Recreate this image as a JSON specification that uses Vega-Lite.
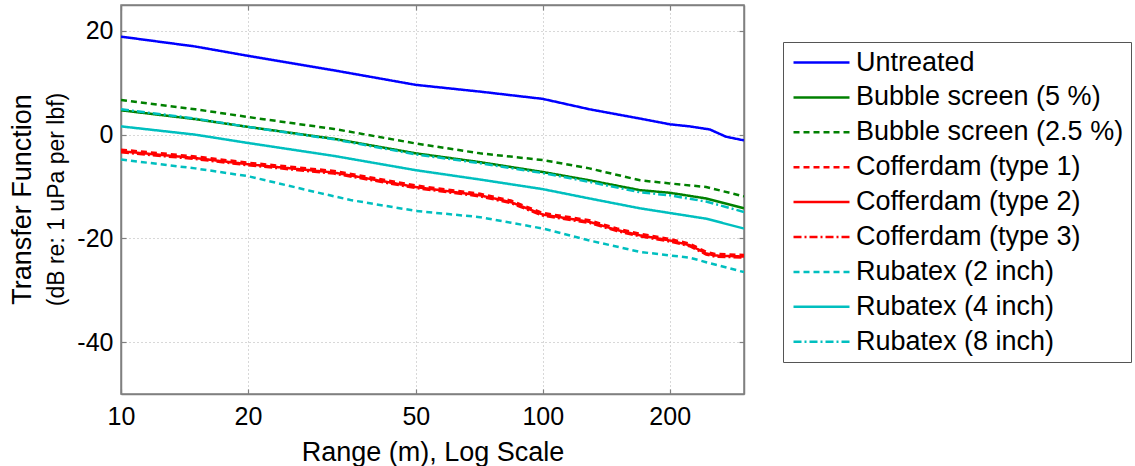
{
  "$schema": "https://vega.github.io/schema/vega-lite/v6.json",
  "autosize": {"type": "none"},
  "padding": {"left": 121, "top": 5, "right": 391, "bottom": 72},
  "width": 623,
  "height": 389,
  "background": "white",
  "config": {
    "font": "Liberation Sans",
    "view": {"stroke": "#808080", "strokeWidth": 1.5}
  },
  "title": {
    "text": "Transfer Function",
    "subtitle": "(dB re: 1 uPa per lbf)",
    "orient": "left",
    "anchor": "middle",
    "font": "Liberation Sans",
    "subtitleFont": "Liberation Sans",
    "fontSize": 27,
    "subtitleFontSize": 23,
    "fontWeight": "normal",
    "color": "black",
    "subtitleColor": "black",
    "offset": 7,
    "subtitlePadding": 9
  },
  "data": {
    "values": [
      {"series": "Untreated", "range": 10, "tf": 18.9},
      {"series": "Untreated", "range": 15, "tf": 17.0},
      {"series": "Untreated", "range": 20, "tf": 15.2},
      {"series": "Untreated", "range": 32, "tf": 12.4},
      {"series": "Untreated", "range": 50, "tf": 9.6},
      {"series": "Untreated", "range": 71, "tf": 8.3},
      {"series": "Untreated", "range": 100, "tf": 6.9},
      {"series": "Untreated", "range": 129, "tf": 4.9},
      {"series": "Untreated", "range": 170, "tf": 3.1},
      {"series": "Untreated", "range": 186, "tf": 2.5},
      {"series": "Untreated", "range": 200, "tf": 2.0},
      {"series": "Untreated", "range": 223, "tf": 1.6},
      {"series": "Untreated", "range": 249, "tf": 1.0},
      {"series": "Untreated", "range": 272, "tf": -0.4},
      {"series": "Untreated", "range": 300, "tf": -1.1},

      {"series": "Bubble screen (5 %)", "range": 10, "tf": 4.7},
      {"series": "Bubble screen (5 %)", "range": 15, "tf": 3.0},
      {"series": "Bubble screen (5 %)", "range": 20, "tf": 1.5},
      {"series": "Bubble screen (5 %)", "range": 32, "tf": -0.8},
      {"series": "Bubble screen (5 %)", "range": 50, "tf": -3.6},
      {"series": "Bubble screen (5 %)", "range": 71, "tf": -5.3},
      {"series": "Bubble screen (5 %)", "range": 100, "tf": -7.2},
      {"series": "Bubble screen (5 %)", "range": 129, "tf": -8.8},
      {"series": "Bubble screen (5 %)", "range": 170, "tf": -10.7},
      {"series": "Bubble screen (5 %)", "range": 200, "tf": -11.2},
      {"series": "Bubble screen (5 %)", "range": 244, "tf": -12.3},
      {"series": "Bubble screen (5 %)", "range": 300, "tf": -14.2},

      {"series": "Bubble screen (2.5 %)", "range": 10, "tf": 6.7},
      {"series": "Bubble screen (2.5 %)", "range": 15, "tf": 4.9},
      {"series": "Bubble screen (2.5 %)", "range": 20, "tf": 3.4},
      {"series": "Bubble screen (2.5 %)", "range": 32, "tf": 1.1},
      {"series": "Bubble screen (2.5 %)", "range": 50, "tf": -1.7},
      {"series": "Bubble screen (2.5 %)", "range": 71, "tf": -3.6},
      {"series": "Bubble screen (2.5 %)", "range": 100, "tf": -4.9},
      {"series": "Bubble screen (2.5 %)", "range": 129, "tf": -6.5},
      {"series": "Bubble screen (2.5 %)", "range": 170, "tf": -8.8},
      {"series": "Bubble screen (2.5 %)", "range": 200, "tf": -9.4},
      {"series": "Bubble screen (2.5 %)", "range": 244, "tf": -10.1},
      {"series": "Bubble screen (2.5 %)", "range": 300, "tf": -11.9},

      {"series": "Cofferdam (type 1)", "range": 10, "tf": -2.9},
      {"series": "Cofferdam (type 1)", "range": 15, "tf": -4.2},
      {"series": "Cofferdam (type 1)", "range": 20, "tf": -5.4},
      {"series": "Cofferdam (type 1)", "range": 32, "tf": -7.0},
      {"series": "Cofferdam (type 1)", "range": 50, "tf": -9.8},
      {"series": "Cofferdam (type 1)", "range": 71, "tf": -11.4},
      {"series": "Cofferdam (type 1)", "range": 84, "tf": -12.7},
      {"series": "Cofferdam (type 1)", "range": 100, "tf": -15.1},
      {"series": "Cofferdam (type 1)", "range": 129, "tf": -16.5},
      {"series": "Cofferdam (type 1)", "range": 150, "tf": -18.1},
      {"series": "Cofferdam (type 1)", "range": 170, "tf": -19.1},
      {"series": "Cofferdam (type 1)", "range": 200, "tf": -20.1},
      {"series": "Cofferdam (type 1)", "range": 223, "tf": -21.0},
      {"series": "Cofferdam (type 1)", "range": 244, "tf": -22.6},
      {"series": "Cofferdam (type 1)", "range": 256, "tf": -23.0},
      {"series": "Cofferdam (type 1)", "range": 300, "tf": -23.2},

      {"series": "Cofferdam (type 2)", "range": 10, "tf": -3.2},
      {"series": "Cofferdam (type 2)", "range": 15, "tf": -4.5},
      {"series": "Cofferdam (type 2)", "range": 20, "tf": -5.7},
      {"series": "Cofferdam (type 2)", "range": 32, "tf": -7.3},
      {"series": "Cofferdam (type 2)", "range": 50, "tf": -10.1},
      {"series": "Cofferdam (type 2)", "range": 71, "tf": -11.7},
      {"series": "Cofferdam (type 2)", "range": 84, "tf": -13.0},
      {"series": "Cofferdam (type 2)", "range": 100, "tf": -15.4},
      {"series": "Cofferdam (type 2)", "range": 129, "tf": -16.8},
      {"series": "Cofferdam (type 2)", "range": 150, "tf": -18.4},
      {"series": "Cofferdam (type 2)", "range": 170, "tf": -19.4},
      {"series": "Cofferdam (type 2)", "range": 200, "tf": -20.4},
      {"series": "Cofferdam (type 2)", "range": 223, "tf": -21.3},
      {"series": "Cofferdam (type 2)", "range": 244, "tf": -22.9},
      {"series": "Cofferdam (type 2)", "range": 256, "tf": -23.3},
      {"series": "Cofferdam (type 2)", "range": 300, "tf": -23.5},

      {"series": "Cofferdam (type 3)", "range": 10, "tf": -3.4},
      {"series": "Cofferdam (type 3)", "range": 15, "tf": -4.7},
      {"series": "Cofferdam (type 3)", "range": 20, "tf": -5.9},
      {"series": "Cofferdam (type 3)", "range": 32, "tf": -7.5},
      {"series": "Cofferdam (type 3)", "range": 50, "tf": -10.3},
      {"series": "Cofferdam (type 3)", "range": 71, "tf": -11.9},
      {"series": "Cofferdam (type 3)", "range": 84, "tf": -13.2},
      {"series": "Cofferdam (type 3)", "range": 100, "tf": -15.6},
      {"series": "Cofferdam (type 3)", "range": 129, "tf": -17.0},
      {"series": "Cofferdam (type 3)", "range": 150, "tf": -18.6},
      {"series": "Cofferdam (type 3)", "range": 170, "tf": -19.6},
      {"series": "Cofferdam (type 3)", "range": 200, "tf": -20.6},
      {"series": "Cofferdam (type 3)", "range": 223, "tf": -21.5},
      {"series": "Cofferdam (type 3)", "range": 244, "tf": -23.1},
      {"series": "Cofferdam (type 3)", "range": 256, "tf": -23.5},
      {"series": "Cofferdam (type 3)", "range": 300, "tf": -23.7},

      {"series": "Rubatex (2 inch)", "range": 10, "tf": -4.8},
      {"series": "Rubatex (2 inch)", "range": 15, "tf": -6.5},
      {"series": "Rubatex (2 inch)", "range": 20, "tf": -8.0},
      {"series": "Rubatex (2 inch)", "range": 28, "tf": -10.8},
      {"series": "Rubatex (2 inch)", "range": 35, "tf": -12.6},
      {"series": "Rubatex (2 inch)", "range": 50, "tf": -14.7},
      {"series": "Rubatex (2 inch)", "range": 71, "tf": -15.9},
      {"series": "Rubatex (2 inch)", "range": 100, "tf": -18.1},
      {"series": "Rubatex (2 inch)", "range": 129, "tf": -20.4},
      {"series": "Rubatex (2 inch)", "range": 170, "tf": -22.6},
      {"series": "Rubatex (2 inch)", "range": 200, "tf": -23.3},
      {"series": "Rubatex (2 inch)", "range": 223, "tf": -23.7},
      {"series": "Rubatex (2 inch)", "range": 244, "tf": -24.6},
      {"series": "Rubatex (2 inch)", "range": 300, "tf": -26.5},

      {"series": "Rubatex (4 inch)", "range": 10, "tf": 1.6},
      {"series": "Rubatex (4 inch)", "range": 15, "tf": 0.0},
      {"series": "Rubatex (4 inch)", "range": 20, "tf": -1.6},
      {"series": "Rubatex (4 inch)", "range": 32, "tf": -4.1},
      {"series": "Rubatex (4 inch)", "range": 50, "tf": -6.85},
      {"series": "Rubatex (4 inch)", "range": 71, "tf": -8.65},
      {"series": "Rubatex (4 inch)", "range": 100, "tf": -10.5},
      {"series": "Rubatex (4 inch)", "range": 129, "tf": -12.3},
      {"series": "Rubatex (4 inch)", "range": 170, "tf": -14.2},
      {"series": "Rubatex (4 inch)", "range": 200, "tf": -15.1},
      {"series": "Rubatex (4 inch)", "range": 244, "tf": -16.2},
      {"series": "Rubatex (4 inch)", "range": 300, "tf": -18.1},

      {"series": "Rubatex (8 inch)", "range": 10, "tf": 4.9},
      {"series": "Rubatex (8 inch)", "range": 15, "tf": 3.1},
      {"series": "Rubatex (8 inch)", "range": 20, "tf": 1.5},
      {"series": "Rubatex (8 inch)", "range": 32, "tf": -0.9},
      {"series": "Rubatex (8 inch)", "range": 50, "tf": -3.8},
      {"series": "Rubatex (8 inch)", "range": 71, "tf": -5.5},
      {"series": "Rubatex (8 inch)", "range": 100, "tf": -7.4},
      {"series": "Rubatex (8 inch)", "range": 129, "tf": -9.1},
      {"series": "Rubatex (8 inch)", "range": 170, "tf": -11.1},
      {"series": "Rubatex (8 inch)", "range": 200, "tf": -11.7},
      {"series": "Rubatex (8 inch)", "range": 244, "tf": -12.9},
      {"series": "Rubatex (8 inch)", "range": 300, "tf": -14.9}
    ]
  },
  "layer": [
    {
      "mark": {"type": "line", "strokeWidth": 2.5, "clip": true},
      "encoding": {
        "x": {
          "field": "range", "type": "quantitative",
          "scale": {"type": "log", "domain": [10, 300], "nice": false},
          "axis": {
            "values": [10, 20, 50, 100, 200],
            "format": "d",
            "title": "Range (m), Log Scale",
            "titleFontSize": 27, "titleFontWeight": "normal", "titleColor": "black",
            "titlePadding": 10,
            "labelFontSize": 25, "labelColor": "black", "labelPadding": 15,
            "labelFlush": false,
            "tickSize": -5, "tickColor": "#808080", "tickWidth": 1.2,
            "domainColor": "#808080", "domainWidth": 1.5,
            "grid": true, "gridColor": "#b0b0b0", "gridDash": [1, 3], "gridWidth": 1
          }
        },
        "y": {
          "field": "tf", "type": "quantitative",
          "scale": {"domain": [-50, 25], "nice": false, "zero": false},
          "axis": {
            "values": [-40, -20, 0, 20],
            "labelExpr": "datum.value < 0 ? '-' + abs(datum.value) : '' + datum.value",
            "title": null,
            "labelFontSize": 25, "labelColor": "black", "labelPadding": 13,
            "labelFlush": false,
            "tickSize": -5, "tickColor": "#808080", "tickWidth": 1.2,
            "domainColor": "#808080", "domainWidth": 1.5,
            "grid": true, "gridColor": "#b0b0b0", "gridDash": [1, 3], "gridWidth": 1
          }
        },
        "detail": {"field": "series"},
        "color": {
          "field": "series", "type": "nominal",
          "scale": {
            "domain": ["Untreated", "Bubble screen (5 %)", "Bubble screen (2.5 %)", "Cofferdam (type 1)", "Cofferdam (type 2)", "Cofferdam (type 3)", "Rubatex (2 inch)", "Rubatex (4 inch)", "Rubatex (8 inch)"],
            "range": ["#0000ff", "#008000", "#008000", "#ff0000", "#ff0000", "#ff0000", "#00bfbf", "#00bfbf", "#00bfbf"]
          },
          "legend": {
            "title": null,
            "orient": "none",
            "legendX": 662,
            "legendY": 37,
            "symbolType": "M-4.15,0H4.15",
            "symbolSize": 182,
            "symbolStrokeWidth": 2.5,
            "symbolOffset": 18,
            "labelFontSize": 27,
            "labelColor": "black",
            "labelLimit": 400,
            "labelOffset": 21,
            "rowPadding": 6.9,
            "padding": 7,
            "strokeColor": "#555555",
            "fillColor": "white"
          }
        },
        "strokeDash": {
          "field": "series", "type": "nominal",
          "scale": {
            "domain": ["Untreated", "Bubble screen (5 %)", "Bubble screen (2.5 %)", "Cofferdam (type 1)", "Cofferdam (type 2)", "Cofferdam (type 3)", "Rubatex (2 inch)", "Rubatex (4 inch)", "Rubatex (8 inch)"],
            "range": [[1, 0], [1, 0], [6, 4], [6, 4], [1, 0], [8, 3, 2, 3], [6, 4], [1, 0], [8, 3, 2, 3]]
          },
          "legend": {
            "title": null,
            "orient": "none",
            "legendX": 662,
            "legendY": 37,
            "symbolType": "M-4.15,0H4.15",
            "symbolSize": 182,
            "symbolStrokeWidth": 2.5,
            "symbolOffset": 18,
            "labelFontSize": 27,
            "labelColor": "black",
            "labelLimit": 400,
            "labelOffset": 21,
            "rowPadding": 6.9,
            "padding": 7,
            "strokeColor": "#555555",
            "fillColor": "white"
          }
        }
      }
    },
    {
      "mark": {"type": "point", "opacity": 0},
      "encoding": {
        "x": {
          "field": "range", "type": "quantitative",
          "scale": {"type": "log", "domain": [10, 300], "nice": false},
          "axis": {
            "orient": "top", "values": [10, 20, 50, 100, 200], "labels": false, "title": null,
            "tickSize": -5, "tickColor": "#808080", "tickWidth": 1.2,
            "domainColor": "#808080", "domainWidth": 1.5, "grid": false
          }
        },
        "y": {
          "field": "tf", "type": "quantitative",
          "scale": {"domain": [-50, 25], "nice": false, "zero": false},
          "axis": {
            "orient": "right", "values": [-40, -20, 0, 20], "labels": false, "title": null,
            "tickSize": -5, "tickColor": "#808080", "tickWidth": 1.2,
            "domainColor": "#808080", "domainWidth": 1.5, "grid": false
          }
        }
      }
    }
  ],
  "resolve": {"axis": {"x": "independent", "y": "independent"}}
}
